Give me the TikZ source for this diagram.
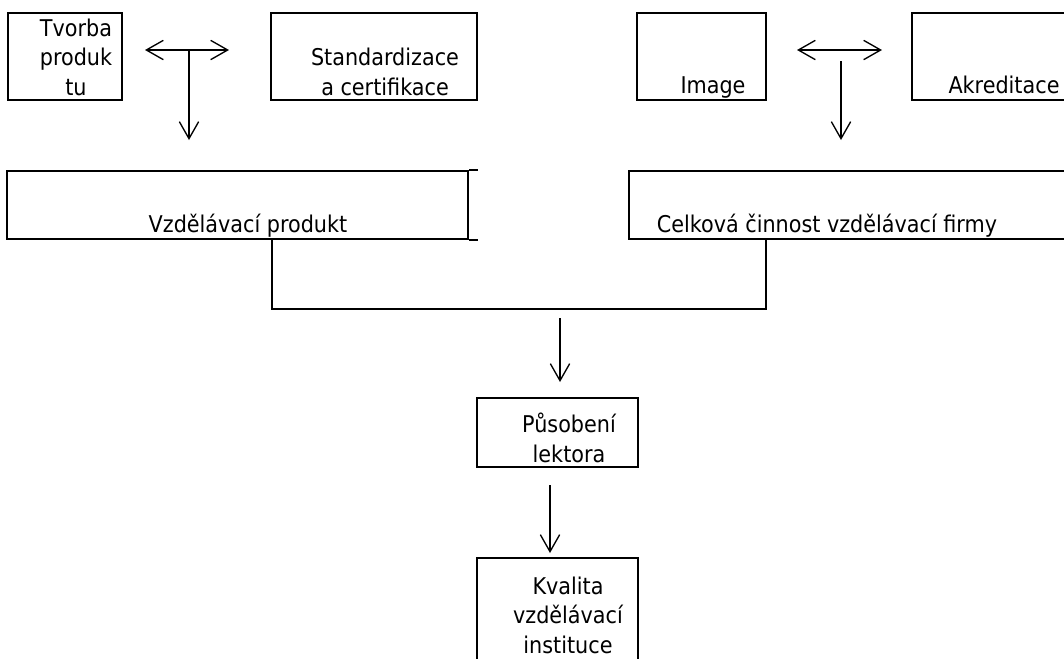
\documentclass[tikz,border=0pt]{standalone}
\usepackage{fontspec}
\setmainfont{DejaVu Sans Condensed}
\usetikzlibrary{arrows.meta,fit}
\tikzset{
  box/.style={draw, line width=1.6pt, inner sep=0pt},
  lbl/.style={inner sep=0pt, align=center, font=\fontsize{17.3pt}{22pt}\selectfont},
  conn/.style={line width=1.6pt},
  arr/.style={line width=1pt, -{Straight Barb[length=12.75pt,width=14.5pt,line width=1pt]}},
  darr/.style={line width=1pt, {Straight Barb[length=12.75pt,width=14.5pt,line width=1pt]}-{Straight Barb[length=12.75pt,width=14.5pt,line width=1pt]}}
}
\begin{document}
\begin{tikzpicture}[x=0.75pt,y=-0.75pt]
\useasboundingbox (0,0) rectangle (1064,658);
\clip (0,0) rectangle (1064,658);

% top row of boxes
\node[box, fit={(8,13) (122,100)}] (tv) {};
\node[box, fit={(271,13) (477,100)}] (st) {};
\node[box, fit={(637,13) (766,100)}] (im) {};
\node[box, fit={(912,13) (1090,100)}] (ak) {};

% labels are anchored at the baseline of their last line
\node[lbl, anchor=base] (tvt) at (76,95) {Tvorba\\produk\\tu};
\node[lbl, anchor=base] (stt) at (385,95) {Standardizace\\a certifikace};
\node[lbl, anchor=base] (imt) at (713,93) {Image};
\node[lbl, anchor=base] (akt) at (1004,93) {Akreditace};

% second row
\node[box, fit={(7,171) (468,239)}] (vp) {};
\draw[conn] (vp.north east) -- ++(9,0);
\draw[conn] (vp.south east) -- ++(9,0);
\node[box, fit={(629,171) (1090,239)}] (cf) {};
\node[lbl, anchor=base] (vpt) at (248,232) {Vzdělávací produkt};
\node[lbl, anchor=base] (cft) at (827,232) {Celková činnost vzdělávací firmy};

% lower boxes
\node[box, fit={(477,398) (638,467)}] (pl) {};
\node[box, fit={(477,558) (638,680)}] (kv) {};
\node[lbl, anchor=base] (plt) at (569,462) {Působení\\lektora};
\node[lbl, anchor=base] (kvt) at (568,653) {Kvalita\\vzdělávací\\instituce};

% free ends of the connectors
\coordinate (l1) at (145,50);
\coordinate (l2) at (229,50);
\coordinate (l3) at (189,50);
\coordinate (l4) at (189,140);
\coordinate (r1) at (797,50);
\coordinate (r2) at (882,50);
\coordinate (r3) at (841,61);
\coordinate (r4) at (841,140);
\coordinate (j1) at (272,309);
\coordinate (j2) at (766,309);
\coordinate (m1) at (560,318);
\coordinate (m2) at (560,382);
\coordinate (n1) at (550,485);
\coordinate (n2) at (550,553);

\draw[darr] (l1) -- (l2);
\draw[arr] (l3) -- (l4);
\draw[darr] (r1) -- (r2);
\draw[arr] (r3) -- (r4);

\draw[conn] (vp.south -| j1) -- (j1) -- (j2) -- (cf.south -| j2);
\draw[arr] (m1) -- (m2);
\draw[arr] (n1) -- (n2);
\end{tikzpicture}
\end{document}
